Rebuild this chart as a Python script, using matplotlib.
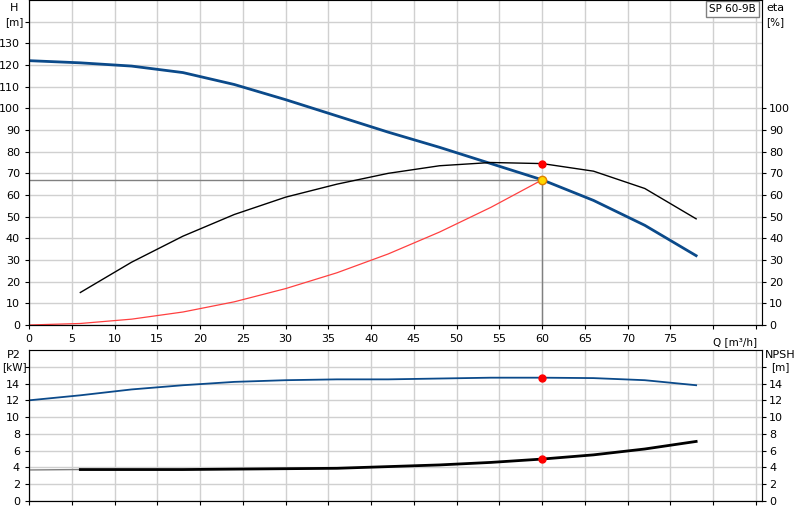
import numpy as np
import matplotlib.pyplot as plt

q = [0, 6, 12, 18, 24, 30, 36, 42, 48, 54, 60, 66, 72, 78]
head = [122, 121, 119.5, 116.5, 111, 104, 96.5, 89, 82, 74.5, 67, 57.5, 46, 32]
q_eta = [6, 12, 18, 24, 30, 36, 42, 48, 54, 60, 66, 72, 78]
eta = [15, 29, 41, 51, 59, 65, 70, 73.5, 75, 74.5, 71, 63, 49]
q_sys = [0, 6, 12, 18, 24, 30, 36, 42, 48, 54, 60]
h_sys = [0, 0.7, 2.7, 6.0, 10.7, 16.8, 24.1, 32.8, 42.9, 54.3, 67]
p2 = [12, 12.6, 13.3, 13.8, 14.2, 14.4, 14.5, 14.5, 14.6, 14.7, 14.7, 14.65, 14.4, 13.8]
npsh = [3.7, 3.75, 3.75, 3.75, 3.8, 3.85, 3.9, 4.1, 4.3, 4.6, 5.0, 5.5, 6.2, 7.1]
duty_q, duty_h, duty_eta, duty_p2, duty_npsh = 60, 67, 74.5, 14.7, 5.0

blue = '#0b4a8a'
fig = plt.figure(figsize=(8, 5.2), dpi=100)
L, W = 29 / 800, 733 / 800
ax = fig.add_axes([L, 195 / 520, W, 325 / 520])
ax2 = fig.add_axes([L, 19 / 520, W, 151 / 520])
XMAX = 85.7

for a in (ax, ax2):
    a.set_xlim(0, XMAX)
    a.set_xticks(np.arange(0, 90, 5))
    a.grid(True, color='#d0d0d0', lw=1)
    a.set_axisbelow(True)
    a.tick_params(labelsize=8, length=3)
    for s in a.spines.values():
        s.set_color('#808080')
    a.spines['left'].set_color('black')
    a.spines['bottom'].set_color('black')

# top chart
ax.set_ylim(0, 150)
ax.set_yticks(np.arange(0, 150, 10))
ax.set_yticklabels([str(v) if v <= 130 else '' for v in range(0, 150, 10)])
ax.set_xticklabels([str(v) if v <= 75 else '' for v in range(0, 90, 5)])
ax.text(82.5, -5.5, 'Q [m³/h]', fontsize=7.5, ha='center', va='top')
fig.text(14 / 800, 1 - 8 / 520, 'H', fontsize=8, ha='center', va='center')
fig.text(14 / 800, 1 - 22 / 520, '[m]', fontsize=7.5, ha='center', va='center')
fig.text(775 / 800, 1 - 8 / 520, 'eta', fontsize=8, ha='center', va='center')
fig.text(775 / 800, 1 - 22 / 520, '[%]', fontsize=7.5, ha='center', va='center')
axr = ax.twinx()
axr.set_ylim(0, 150)
axr.set_yticks(np.arange(0, 110, 10))
axr.tick_params(labelsize=8, length=3, pad=2)
axr.spines['right'].set_color('black')

ax.plot([0, duty_q], [duty_h, duty_h], color='#808080', lw=1)
ax.plot([duty_q, duty_q], [0, duty_h], color='#808080', lw=1)
ax.plot(q_sys, h_sys, color='#ff4040', lw=0.9)
ax.plot(q, head, color=blue, lw=2)
axr.plot(q_eta, eta, color='black', lw=1)
axr.plot(duty_q, duty_eta, 'o', color='red', ms=5)
ax.plot(duty_q, duty_h, 'o', color='#ffd700', mec='#e08000', ms=6, zorder=5)
ax.text(85.0, 146, 'SP 60-9B', fontsize=7.5, ha='right', va='center',
        bbox=dict(boxstyle='square,pad=0.3', fc='white', ec='#808080', lw=1))

# bottom chart
ax2.set_ylim(0, 18)
ax2.set_yticks(np.arange(0, 18, 2))
ax2.set_yticklabels([str(v) if v <= 14 else '' for v in range(0, 18, 2)])
ax2.set_xticklabels([])
fig.text(14 / 800, 1 - 355 / 520, 'P2', fontsize=8, ha='center', va='center')
fig.text(14 / 800, 1 - 367 / 520, '[kW]', fontsize=7.5, ha='center', va='center')
fig.text(780 / 800, 1 - 355 / 520, 'NPSH', fontsize=8, ha='center', va='center')
fig.text(780 / 800, 1 - 367 / 520, '[m]', fontsize=7.5, ha='center', va='center')
ax2r = ax2.twinx()
ax2r.set_ylim(0, 18)
ax2r.set_yticks(np.arange(0, 18, 2))
ax2r.set_yticklabels([str(v) if v <= 14 else '' for v in range(0, 18, 2)])
ax2r.tick_params(labelsize=8, length=3, pad=2)
ax2.plot(q, p2, color=blue, lw=1.3)
ax2.plot(duty_q, duty_p2, 'o', color='red', ms=5)
ax2r.plot(q[:2], npsh[:2], color='#808080', lw=1)
ax2r.plot(q[1:], npsh[1:], color='black', lw=2)
ax2r.plot(duty_q, duty_npsh, 'o', color='red', ms=5)

fig.savefig('out.png', dpi=100)
